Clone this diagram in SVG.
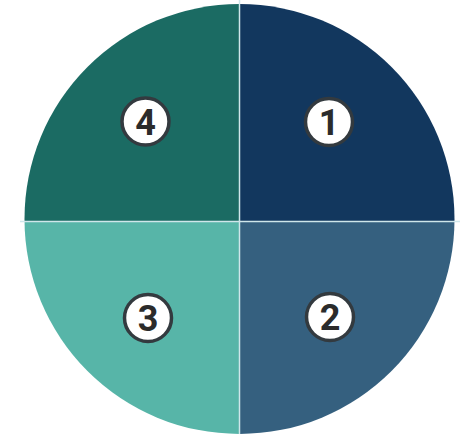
<svg xmlns="http://www.w3.org/2000/svg" width="464" height="434" viewBox="0 0 464 434">
<defs>
<style>
.badge circle{fill:#ffffff;stroke:#333a3f;stroke-width:3.5}
.badge text{font-family:Roboto,"Liberation Sans",sans-serif;font-weight:700;font-size:36px;fill:#2b2b2b;text-anchor:middle}
.div{stroke:#cfe6ea;stroke-width:1.5}
</style>
<clipPath id="c"><circle cx="239.5" cy="219" r="215"/></clipPath>
</defs>
<rect width="464" height="434" fill="#ffffff"/>
<g clip-path="url(#c)">
<g id="q1"><rect x="239.5" y="0" width="230" height="221" fill="#12375e"/></g>
<g id="q2"><rect x="239.5" y="221" width="230" height="220" fill="#35607f"/></g>
<g id="q3"><rect x="0" y="221" width="239.5" height="220" fill="#57b5a8"/></g>
<g id="q4"><rect x="0" y="0" width="239.5" height="221" fill="#1b6b63"/></g>
</g>
<g id="connectors">
<line class="div" x1="239.5" y1="0" x2="239.5" y2="434"/>
<line class="div" x1="20" y1="221.5" x2="460" y2="221.5"/>
</g>
<g id="n1" class="badge"><circle cx="329" cy="122" r="23.5"/><text x="329" y="135">1</text></g>
<g id="n2" class="badge"><circle cx="330" cy="317" r="23.5"/><text x="330" y="330">2</text></g>
<g id="n3" class="badge"><circle cx="148" cy="318" r="23.5"/><text x="148" y="331">3</text></g>
<g id="n4" class="badge"><circle cx="145.5" cy="121.5" r="23.5"/><text x="145.5" y="134.5">4</text></g>
</svg>
